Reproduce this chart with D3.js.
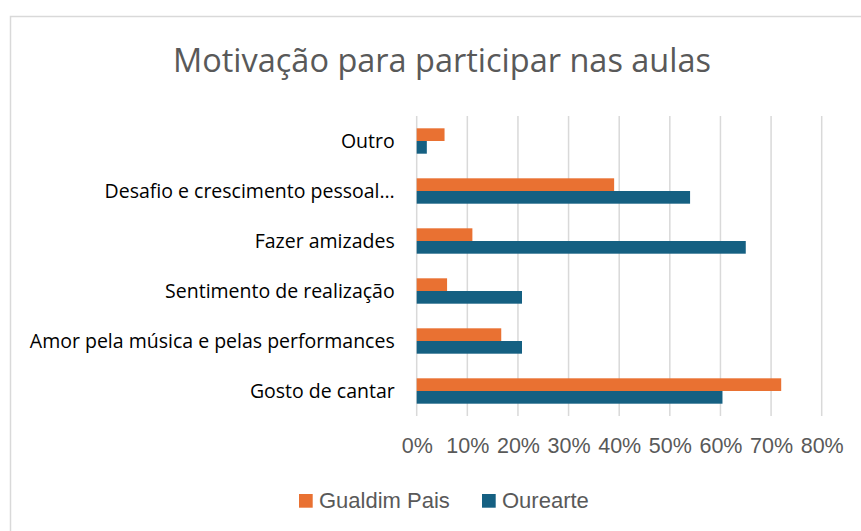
<!DOCTYPE html>
<html>
<head>
<meta charset="utf-8">
<script src="https://cdn.jsdelivr.net/npm/d3@7"></script>
<style>
    body { margin: 0; background: #fff; }
    svg { display: block; }
</style>
</head>
<body>
<div id="chart"></div>
<script>
// data, top to bottom as drawn
const categories = ['Outro', 'Desafio e crescimento pessoal…', 'Fazer amizades',
    'Sentimento de realização', 'Amor pela música e pelas performances', 'Gosto de cantar'];
const series = ['Gualdim Pais', 'Ourearte'];
const gualdimPais = [0.055, 0.39, 0.11, 0.06, 0.167, 0.72];
const ourearte = [0.02, 0.54, 0.65, 0.208, 0.208, 0.604];
const ticks = [0, 0.1, 0.2, 0.3, 0.4, 0.5, 0.6, 0.7, 0.8];
const colors = ['#E97132', '#156082'];

const W = 861, H = 531;
const svg = d3.select('#chart').append('svg')
    .attr('width', W)
    .attr('height', H);

// chart area border
svg.append('rect')
    .attr('x', 10.5).attr('y', 16.5)
    .attr('width', W).attr('height', H)
    .attr('fill', '#fff')
    .attr('stroke', '#d9d9d9')
    .attr('stroke-width', 1.5);

svg.append('text')
    .attr('x', 442).attr('y', 72)
    .attr('text-anchor', 'middle')
    .attr('fill', '#595959')
    .attr('font-family', 'Open Sans, sans-serif')
    .attr('font-size', 33)
    .attr('textLength', 538)
    .attr('lengthAdjust', 'spacingAndGlyphs')
    .text('Motivação para participar nas aulas');

const x = d3.scaleLinear().domain([0, 0.8]).range([416.7, 821.7]);
const y = d3.scaleBand().domain(categories).range([116, 416]);
const ySub = d3.scaleBand().domain(series).range([0, y.bandwidth()]).paddingOuter(0.97);

// gridlines
svg.append('g').selectAll('line').data(ticks).enter().append('line')
    .attr('x1', d => x(d)).attr('x2', d => x(d))
    .attr('y1', 116).attr('y2', 416)
    .attr('stroke', '#d9d9d9')
    .attr('stroke-width', 1.5);

// x axis labels
const xAxis = d3.axisBottom(x).tickValues(ticks).tickSize(0).tickPadding(0)
    .tickFormat(d3.format('.0%'));
const gx = svg.append('g').attr('transform', 'translate(0,' + 438 + ')').call(xAxis);
gx.select('.domain').remove();
gx.selectAll('text')
    .attr('fill', '#595959')
    .attr('font-family', 'Liberation Sans, Arial, sans-serif')
    .attr('font-size', 21.5);

// category labels
const yAxis = d3.axisLeft(y).tickSize(0).tickPadding(22);
const gy = svg.append('g').attr('transform', 'translate(416.7,0)').call(yAxis);
gy.select('.domain').remove();
gy.selectAll('text')
    .attr('fill', '#000')
    .attr('font-family', 'Open Sans, sans-serif')
    .attr('font-size', 19.5)
    .attr('dy', '0.34em');

// bars
const rows = categories.map((c, i) => ({cat: c, vals: [gualdimPais[i], ourearte[i]]}));
const groups = svg.append('g').selectAll('g.cat').data(rows).enter().append('g')
    .classed('cat', true)
    .attr('transform', d => 'translate(0,' + y(d.cat) + ')');
groups.selectAll('rect')
    .data(d => d.vals.map((v, j) => ({s: series[j], v: v, j: j})))
    .enter().append('rect')
    .attr('x', x(0))
    .attr('y', d => ySub(d.s))
    .attr('width', d => x(d.v) - x(0))
    .attr('height', ySub.bandwidth())
    .attr('fill', d => colors[d.j]);

// legend
const legend = svg.append('g').attr('transform', 'translate(299,494)');
const lx = [0, 183];
series.forEach((s, i) => {
    const g = legend.append('g').attr('transform', 'translate(' + lx[i] + ',0)');
    g.append('rect').attr('width', 13.7).attr('height', 13.7).attr('fill', colors[i]);
    g.append('text')
        .attr('x', 20).attr('y', 13.5)
        .attr('fill', '#595959')
        .attr('font-family', 'Liberation Sans, Arial, sans-serif')
        .attr('font-size', 22)
        .text(s);
});
</script>
</body>
</html>
